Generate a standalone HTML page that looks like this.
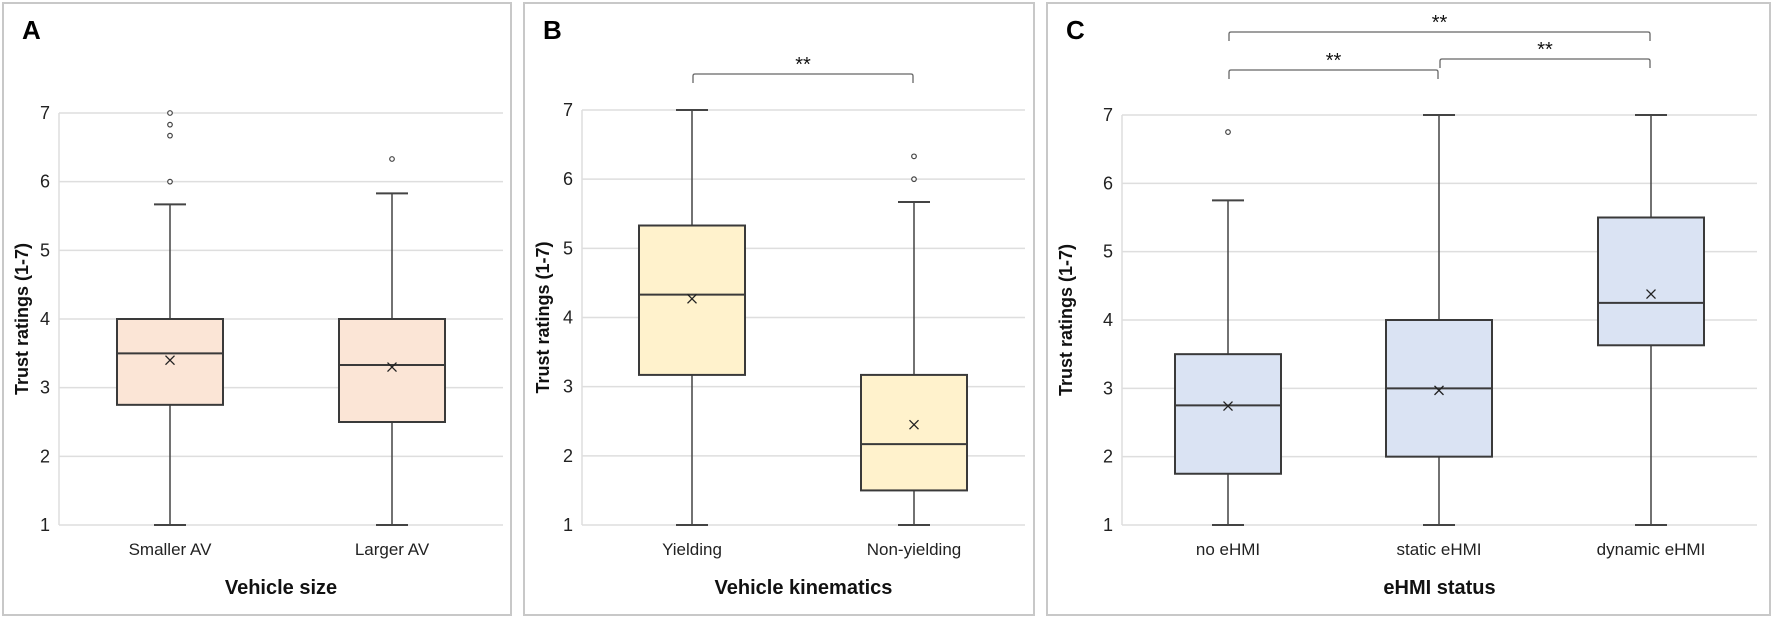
<!DOCTYPE html>
<html><head><meta charset="utf-8"><style>
html,body{margin:0;padding:0;background:#fff;}
svg{display:block;font-family:"Liberation Sans",sans-serif;}
</style></head><body>
<svg id="fig" width="1772" height="620" viewBox="0 0 1772 620"></svg>
<script>
const panelLetters = ["A","B","C"];
const xTitles = ["Vehicle size","Vehicle kinematics","eHMI status"];
const catsA = ["Smaller AV","Larger AV"];
const catsB = ["Yielding","Non-yielding"];
const catsC = ["no eHMI","static eHMI","dynamic eHMI"];
// [min, q1, median, q3, max, mean]
const statsA = [[1,2.75,3.5,4,5.67,3.4],[1,2.5,3.33,4,5.83,3.3]];
const statsB = [[1,3.17,4.33,5.33,7,4.27],[1,1.5,2.17,3.17,5.67,2.45]];
const statsC = [[1,1.75,2.75,3.5,5.75,2.74],[1,2,3,4,7,2.97],[1,3.63,4.25,5.5,7,4.38]];
const outliersA = [[6,6.67,6.83,7],[6.33]];
const outliersB = [[],[6,6.33]];
const outliersC = [[6.75],[],[]];
const yTicks = [1,2,3,4,5,6,7];
const sigB = [[0,1,"**"]];
const sigC = [[0,2,"**"],[0,1,"**"],[1,2,"**"]];

const NS="http://www.w3.org/2000/svg";
const svg=document.getElementById('fig');
function mk(tag,attrs,parent){const e=document.createElementNS(NS,tag);for(const k in attrs)e.setAttribute(k,attrs[k]);(parent||svg).appendChild(e);return e;}

const panels=[
 {x0:3,x1:511,gx0:59,gx1:503,yTop:113,centers:[170,392],cats:catsA,stats:statsA,out:outliersA,fill:"#fbe5d6",sig:[],sigY:[]},
 {x0:524,x1:1034,gx0:582,gx1:1025,yTop:110,centers:[692,914],cats:catsB,stats:statsB,out:outliersB,fill:"#fff2cc",sig:sigB,sigY:[74]},
 {x0:1047,x1:1770,gx0:1122,gx1:1757,yTop:115,centers:[1228,1439,1651],cats:catsC,stats:statsC,out:outliersC,fill:"#dae3f3",sig:sigC,sigY:[32,70,59]}
];
const yBot=525;

panels.forEach((p,pi)=>{
  const g=mk('g',{});
  
  
  const yS=v=>yBot-(v-1)*(yBot-p.yTop)/6;
  const border=mk('rect',{x:p.x0,y:3,width:p.x1-p.x0,height:612,fill:'none',stroke:'#c8c8c8','stroke-width':2},g);
  
  
  const lt=mk('text',{x:p.x0+19,y:39,'font-size':26,'font-weight':'bold',fill:'#000'},g);
  lt.textContent=panelLetters[pi];
  
  
  yTicks.forEach(t=>{
    const gl=mk('line',{x1:p.gx0,x2:p.gx1,y1:yS(t),y2:yS(t),stroke:'#dedede','stroke-width':1.5},g);
    
    
    const tl=mk('text',{x:p.gx0-14,y:yS(t)+6,'font-size':18,'text-anchor':'middle',fill:'#222'},g);
    tl.textContent=t;
    
    
  });
  mk('line',{x1:p.gx0,x2:p.gx0,y1:p.yTop,y2:yBot,stroke:'#dedede','stroke-width':1.5},g);
  const yt=mk('text',{x:0,y:0,'font-size':18,'font-weight':'bold','text-anchor':'middle',fill:'#111',transform:`translate(${p.x0+25},${(p.yTop+yBot)/2}) rotate(-90)`},g);
  yt.textContent="Trust ratings (1-7)";
  
  
  const xt=mk('text',{x:(p.gx0+p.gx1)/2,y:594,'font-size':20,'font-weight':'bold','text-anchor':'middle',fill:'#111'},g);
  xt.textContent=xTitles[pi];
  
  
  p.cats.forEach((c,i)=>{
    const cx=p.centers[i], s=p.stats[i], hw=53;
    const bg=mk('g',{},g);
    
    
    mk('line',{x1:cx,x2:cx,y1:yS(s[0]),y2:yS(s[4]),stroke:'#444','stroke-width':1.5},bg);
    mk('line',{x1:cx-16,x2:cx+16,y1:yS(s[0]),y2:yS(s[0]),stroke:'#444','stroke-width':2},bg);
    mk('line',{x1:cx-16,x2:cx+16,y1:yS(s[4]),y2:yS(s[4]),stroke:'#444','stroke-width':2},bg);
    mk('rect',{x:cx-hw,y:yS(s[3]),width:2*hw,height:yS(s[1])-yS(s[3]),fill:p.fill,stroke:'#3a3a3a','stroke-width':2},bg);
    mk('line',{x1:cx-hw,x2:cx+hw,y1:yS(s[2]),y2:yS(s[2]),stroke:'#3a3a3a','stroke-width':2},bg);
    const my=yS(s[5]);
    mk('path',{d:`M${cx-4.5} ${my-4.5}L${cx+4.5} ${my+4.5}M${cx+4.5} ${my-4.5}L${cx-4.5} ${my+4.5}`,stroke:'#222','stroke-width':1.3},bg);
    p.out[i].forEach(o=>{
      const oc=mk('circle',{cx:cx,cy:yS(o),r:2.3,fill:'#fff',stroke:'#444','stroke-width':1.2},bg);
      
      
    });
    const xl=mk('text',{x:cx,y:555,'font-size':17,'text-anchor':'middle',fill:'#222'},g);
    xl.textContent=c;
    
    
  });
  p.sig.forEach((sg,k)=>{
    const a=p.centers[sg[0]]+1, b=p.centers[sg[1]]-1, y=p.sigY[k];
    const br=mk('path',{d:`M${a} ${y+9}L${a} ${y+2}Q${a} ${y} ${a+2} ${y}L${b-2} ${y}Q${b} ${y} ${b} ${y+2}L${b} ${y+9}`,fill:'none',stroke:'#666','stroke-width':1.3},g);
    
    
    const st=mk('text',{x:(a+b)/2,y:y-3,'font-size':20,'text-anchor':'middle',fill:'#111'},g);
    st.textContent=sg[2];
    
    
  });
});
</script>
</body></html>
